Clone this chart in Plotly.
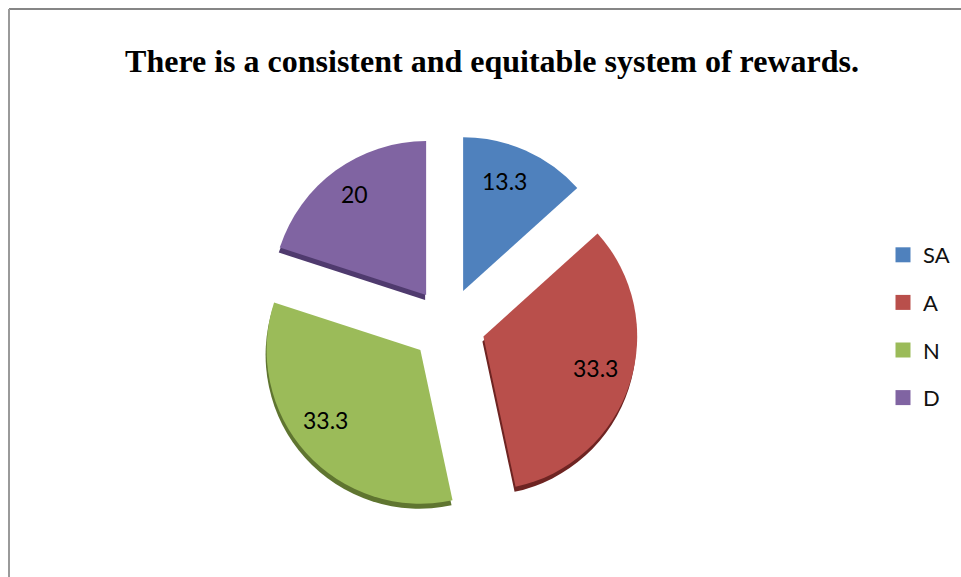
import plotly.graph_objects as go

categories = ["SA", "A", "N", "D"]
values = [13.3, 33.3, 33.3, 20]
labels_text = ["13.3", "33.3", "33.3", "20"]
colors = ["#4F81BD", "#B94F4B", "#9BBB59", "#8064A2"]
shadow_colors = ["rgba(0,0,0,0)", "#6E2422", "#5F7530", "#4F3A6E"]

W, H = 961, 577
cx, cy, size = 448, 325, 382
label_xy = [(504, 181), (595, 368), (325, 420), (354, 194)]


def dom(dx=0, dy=0):
    return dict(
        x=[(cx + dx - size / 2) / W, (cx + dx + size / 2) / W],
        y=[1 - (cy + dy + size / 2) / H, 1 - (cy + dy - size / 2) / H],
    )


fig = go.Figure()
fig.add_trace(go.Pie(
    labels=categories, values=values, sort=False, direction="clockwise", rotation=0,
    pull=0.242, domain=dom(-1, 5), textinfo="none", showlegend=False, hoverinfo="skip",
    marker=dict(colors=shadow_colors, line=dict(width=0)),
))
fig.add_trace(go.Pie(
    labels=categories, values=values, sort=False, direction="clockwise", rotation=0,
    pull=0.242, domain=dom(), textinfo="none", showlegend=False,
    marker=dict(colors=colors, line=dict(width=0)),
))
for name, col in zip(categories, colors):
    fig.add_trace(go.Scatter(
        x=[None], y=[None], mode="markers", name=name, legendgroup=name,
        marker=dict(symbol="square", size=15, color=col),
    ))

annotations = [
    dict(text=t, xref="paper", yref="paper", x=x / W, y=1 - y / H, xanchor="center", yanchor="middle",
         showarrow=False, font=dict(family="Lato", size=23, color="black"))
    for t, (x, y) in zip(labels_text, label_xy)
]

fig.update_layout(
    width=W, height=H, autosize=False,
    margin=dict(l=0, r=0, t=0, b=0),
    paper_bgcolor="white", plot_bgcolor="white",
    xaxis=dict(visible=False), yaxis=dict(visible=False),
    title=dict(
        text="<b>There is a consistent and equitable system of rewards.</b>",
        font=dict(family="Liberation Serif", size=32, color="black"),
        x=492 / W, xanchor="center", y=1 - 61 / H, yanchor="middle",
    ),
    annotations=annotations,
    legend=dict(
        x=883 / W, xanchor="left", y=1 - 234 / H, yanchor="top",
        font=dict(family="Lato", size=22, color="#111111"),
        tracegroupgap=16, bgcolor="rgba(0,0,0,0)", itemwidth=30,
    ),
    shapes=[
        dict(type="line", xref="paper", yref="paper", x0=9 / W, x1=1, y0=1 - 9 / H, y1=1 - 9 / H,
             line=dict(color="#868686", width=2)),
        dict(type="line", xref="paper", yref="paper", x0=9 / W, x1=9 / W, y0=1 - 9 / H, y1=0,
             line=dict(color="#9a9a9a", width=2)),
    ],
)
fig.write_html(
    "out.html",
    config={"displayModeBar": False},
    post_script="document.body.style.margin='0';document.documentElement.style.overflow='hidden';",
)
